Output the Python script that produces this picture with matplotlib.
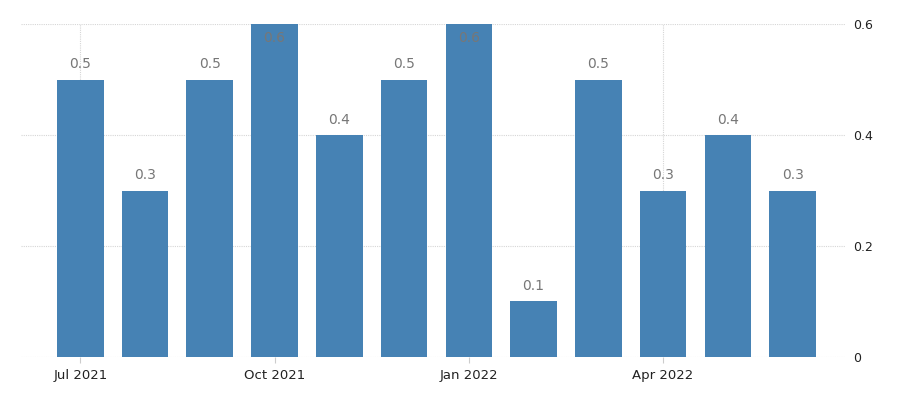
import matplotlib.pyplot as plt

months = ["Jul 2021", "Aug 2021", "Sep 2021", "Oct 2021", "Nov 2021", "Dec 2021",
          "Jan 2022", "Feb 2022", "Mar 2022", "Apr 2022", "May 2022", "Jun 2022"]
values = [0.5, 0.3, 0.5, 0.6, 0.4, 0.5, 0.6, 0.1, 0.5, 0.3, 0.4, 0.3]
tick_idx = [0, 3, 6, 9]
tick_labels = ["Jul 2021", "Oct 2021", "Jan 2022", "Apr 2022"]
y_ticks = [0, 0.2, 0.4, 0.6]
y_tick_labels = ["0", "0.2", "0.4", "0.6"]

bar_color = "#4682b4"
grid_color = "#d6d6d6"

fig = plt.figure(figsize=(9, 3.97), dpi=100)
ax = fig.add_axes([0.023, 0.1008, 0.916, 0.8387])

x = list(range(len(values)))
ax.bar(x, values, width=0.72, color=bar_color, zorder=2)

ymax = 0.6
for xi, v in zip(x, values):
    # labels that would fall outside the top go inside the bar
    if v >= ymax:
        ax.annotate("{:.1f}".format(v), (xi, v), xytext=(0, -10), textcoords="offset points",
                    ha="center", va="center", fontsize=10, color="#777777", zorder=3)
    else:
        ax.annotate("{:.1f}".format(v), (xi, v), xytext=(0, 11), textcoords="offset points",
                    ha="center", va="center", fontsize=10, color="#777777", zorder=3)

ax.set_xlim(-0.92, 11.81)
ax.set_ylim(0, ymax)

for yt in y_ticks:
    ax.axhline(yt, color=grid_color, lw=0.8, ls=(0, (1, 1)), zorder=1)
for ti in tick_idx:
    ax.axvline(ti, color=grid_color, lw=0.8, ls=(0, (1, 1)), zorder=1)

ax.set_xticks(tick_idx)
ax.set_xticklabels(tick_labels, fontsize=9.5, color="#222222")
ax.tick_params(axis="x", length=4, color="#cccccc", pad=5)

ax.yaxis.tick_right()
ax.set_yticks(y_ticks)
ax.set_yticklabels(y_tick_labels, fontsize=9, color="#222222")
ax.tick_params(axis="y", length=0, pad=6)

for s in ax.spines.values():
    s.set_visible(False)

plt.savefig("out.png")
